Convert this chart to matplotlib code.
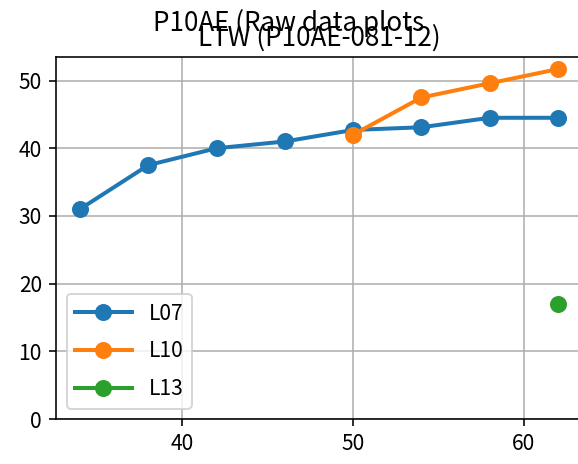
import numpy as np
import matplotlib.pyplot as plt
from matplotlib.ticker import MultipleLocator

plt.rcParams['font.family'] = ['Noto Sans CJK JP', 'DejaVu Sans']
plt.rcParams['font.size'] = 10.5

# data
x_l07 = [34, 38, 42, 46, 50, 54, 58, 62]
y_l07 = [31, 37.5, 40, 41, 42.7, 43.1, 44.5, 44.5]
x_l10 = [50, 54, 58, 62]
y_l10 = [42, 47.5, 49.6, 51.7]
x_l13 = [62]
y_l13 = [17]

fig = plt.figure(figsize=(578 / 144, 464 / 144), dpi=144)
ax = fig.add_axes([56 / 578, 45 / 464, 526 / 578, 361.7 / 464])

ax.plot(x_l07, y_l07, marker='o', lw=2, ms=7.5, label='L07')
ax.plot(x_l10, y_l10, marker='o', lw=2, ms=7.5, label='L10')
ax.plot(x_l13, y_l13, marker='o', lw=2, ms=7.5, label='L13')

ax.set_ylim(bottom=0)
ax.xaxis.set_major_locator(MultipleLocator(10))
ax.grid(True)
ax.legend(loc='lower left', fontsize=10.5, handlelength=2.7, labelspacing=0.75)
ax.set_title('LTW (P10AE-081-12)', fontsize=13)
fig.suptitle('P10AE (Raw data plots', fontsize=13, x=0.5)

fig.savefig('out.png', dpi=144)
